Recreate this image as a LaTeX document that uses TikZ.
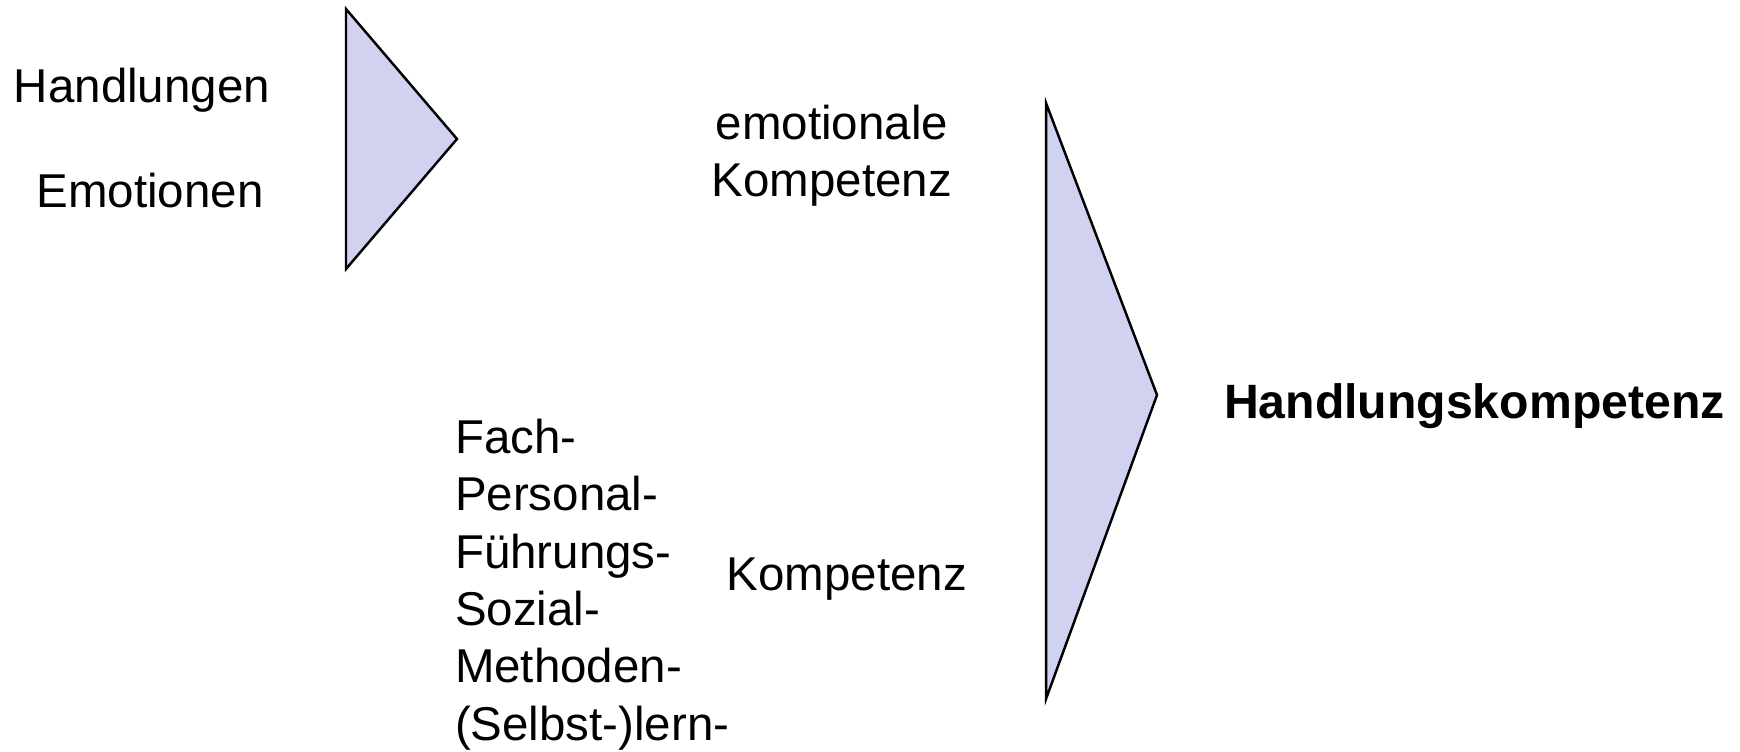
\documentclass[tikz,border=0pt]{standalone}
\usepackage{fontspec}
\setmainfont{Liberation Sans}
\definecolor{trifill}{RGB}{208,210,240}
\begin{document}
\begin{tikzpicture}[x=0.01cm,y=-0.01cm,
  lbl/.style={inner sep=0pt,outer sep=0pt,font=\fontsize{13.5pt}{16.3pt}\selectfont},
  tri/.style={draw=black,fill=trifill,line width=0.7pt,line join=miter}]
\useasboundingbox (0,0) rectangle (1740,752);
% triangles
\coordinate (t1a) at (346,9);
\coordinate (t1b) at (346,269);
\coordinate (t1c) at (457,139);
\draw[tri] (t1a) -- (t1c) -- (t1b) -- cycle;
\coordinate (t2a) at (1046,103);
\coordinate (t2b) at (1046,699);
\coordinate (t2c) at (1157,395);
\draw[tri] (t2a) -- (t2c) -- (t2b) -- cycle;
% texts
\node[lbl,anchor=base] (hand) at (142,103) {Handlungen};
\node[lbl,anchor=base] (emo) at (150,208) {Emotionen};
\node[lbl,align=center,anchor=base] (emok) at (832,197) {emotionale\\Kompetenz};
\node[lbl,align=left,anchor=base west] (list) at (455,740) {Fach-\\Personal-\\Führungs-\\Sozial-\\Methoden-\\(Selbst-)lern-};
\node[lbl,anchor=base] (komp) at (847,590) {Kompetenz};
\node[lbl,anchor=base west,font=\fontsize{13.7pt}{16.3pt}\selectfont\bfseries] (hk) at (1224,418) {Handlungskompetenz};
\end{tikzpicture}
\end{document}
